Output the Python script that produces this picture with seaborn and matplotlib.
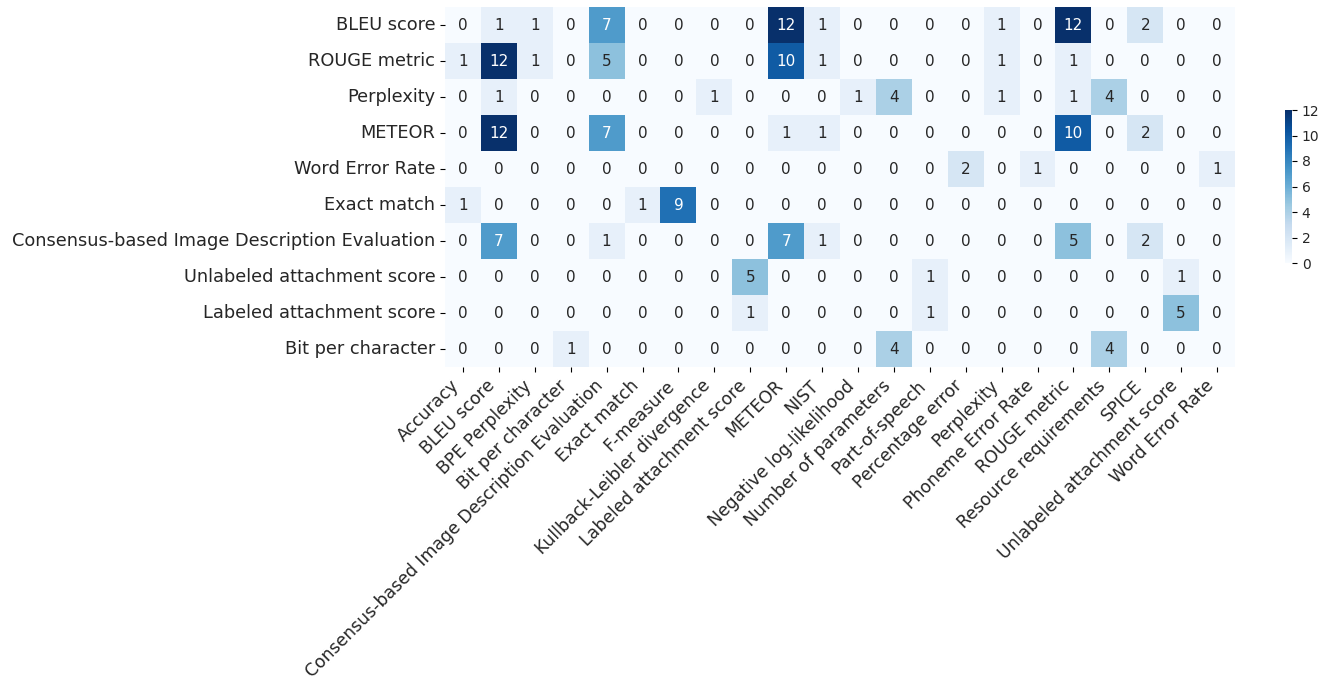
import matplotlib
matplotlib.use("Agg")
import matplotlib.pyplot as plt
import seaborn as sns
import pandas as pd

# Row and column labels
rows = ['BLEU score', 'ROUGE metric', 'Perplexity', 'METEOR', 'Word Error Rate',
        'Exact match', 'Consensus-based Image Description Evaluation',
        'Unlabeled attachment score', 'Labeled attachment score', 'Bit per character']
cols = ['Accuracy', 'BLEU score', 'BPE Perplexity', 'Bit per character',
        'Consensus-based Image Description Evaluation', 'Exact match', 'F-measure',
        'Kullback-Leibler divergence', 'Labeled attachment score', 'METEOR', 'NIST',
        'Negative log-likelihood', 'Number of parameters', 'Part-of-speech',
        'Percentage error', 'Perplexity', 'Phoneme Error Rate', 'ROUGE metric',
        'Resource requirements', 'SPICE', 'Unlabeled attachment score', 'Word Error Rate']

# Counts per row
bleu = [0, 1, 1, 0, 7, 0, 0, 0, 0, 12, 1, 0, 0, 0, 0, 1, 0, 12, 0, 2, 0, 0]
rouge = [1, 12, 1, 0, 5, 0, 0, 0, 0, 10, 1, 0, 0, 0, 0, 1, 0, 1, 0, 0, 0, 0]
perplexity = [0, 1, 0, 0, 0, 0, 0, 1, 0, 0, 0, 1, 4, 0, 0, 1, 0, 1, 4, 0, 0, 0]
meteor = [0, 12, 0, 0, 7, 0, 0, 0, 0, 1, 1, 0, 0, 0, 0, 0, 0, 10, 0, 2, 0, 0]
wer = [0, 0, 0, 0, 0, 0, 0, 0, 0, 0, 0, 0, 0, 0, 2, 0, 1, 0, 0, 0, 0, 1]
exact = [1, 0, 0, 0, 0, 1, 9, 0, 0, 0, 0, 0, 0, 0, 0, 0, 0, 0, 0, 0, 0, 0]
cider = [0, 7, 0, 0, 1, 0, 0, 0, 0, 7, 1, 0, 0, 0, 0, 0, 0, 5, 0, 2, 0, 0]
uas = [0, 0, 0, 0, 0, 0, 0, 0, 5, 0, 0, 0, 0, 1, 0, 0, 0, 0, 0, 0, 1, 0]
las = [0, 0, 0, 0, 0, 0, 0, 0, 1, 0, 0, 0, 0, 1, 0, 0, 0, 0, 0, 0, 5, 0]
bpc = [0, 0, 0, 1, 0, 0, 0, 0, 0, 0, 0, 0, 4, 0, 0, 0, 0, 0, 4, 0, 0, 0]

cbar_ticks = [0, 2, 4, 6, 8, 10, 12]

data = pd.DataFrame([bleu, rouge, perplexity, meteor, wer, exact, cider, uas, las, bpc],
                    index=rows, columns=cols)

fig = plt.figure(figsize=(13.34, 6.86), dpi=100)
ax = fig.add_axes([445 / 1334, 1 - 367 / 686, 790 / 1334, 360 / 686])
cax = fig.add_axes([1285 / 1334, 1 - 263 / 686, 7 / 1334, 153 / 686])

sns.heatmap(data, annot=True, fmt='d', cmap='Blues', ax=ax, cbar_ax=cax,
            annot_kws={'fontsize': 11}, cbar_kws={'ticks': cbar_ticks})
ax.set_xticklabels(cols, rotation=45, ha='right', fontsize=12.4, color='#262626')
ax.set_yticklabels(rows, rotation=0, fontsize=12.8, color='#262626')
cax.tick_params(labelsize=10, labelcolor='#262626')

fig.savefig('out.png', dpi=100)
